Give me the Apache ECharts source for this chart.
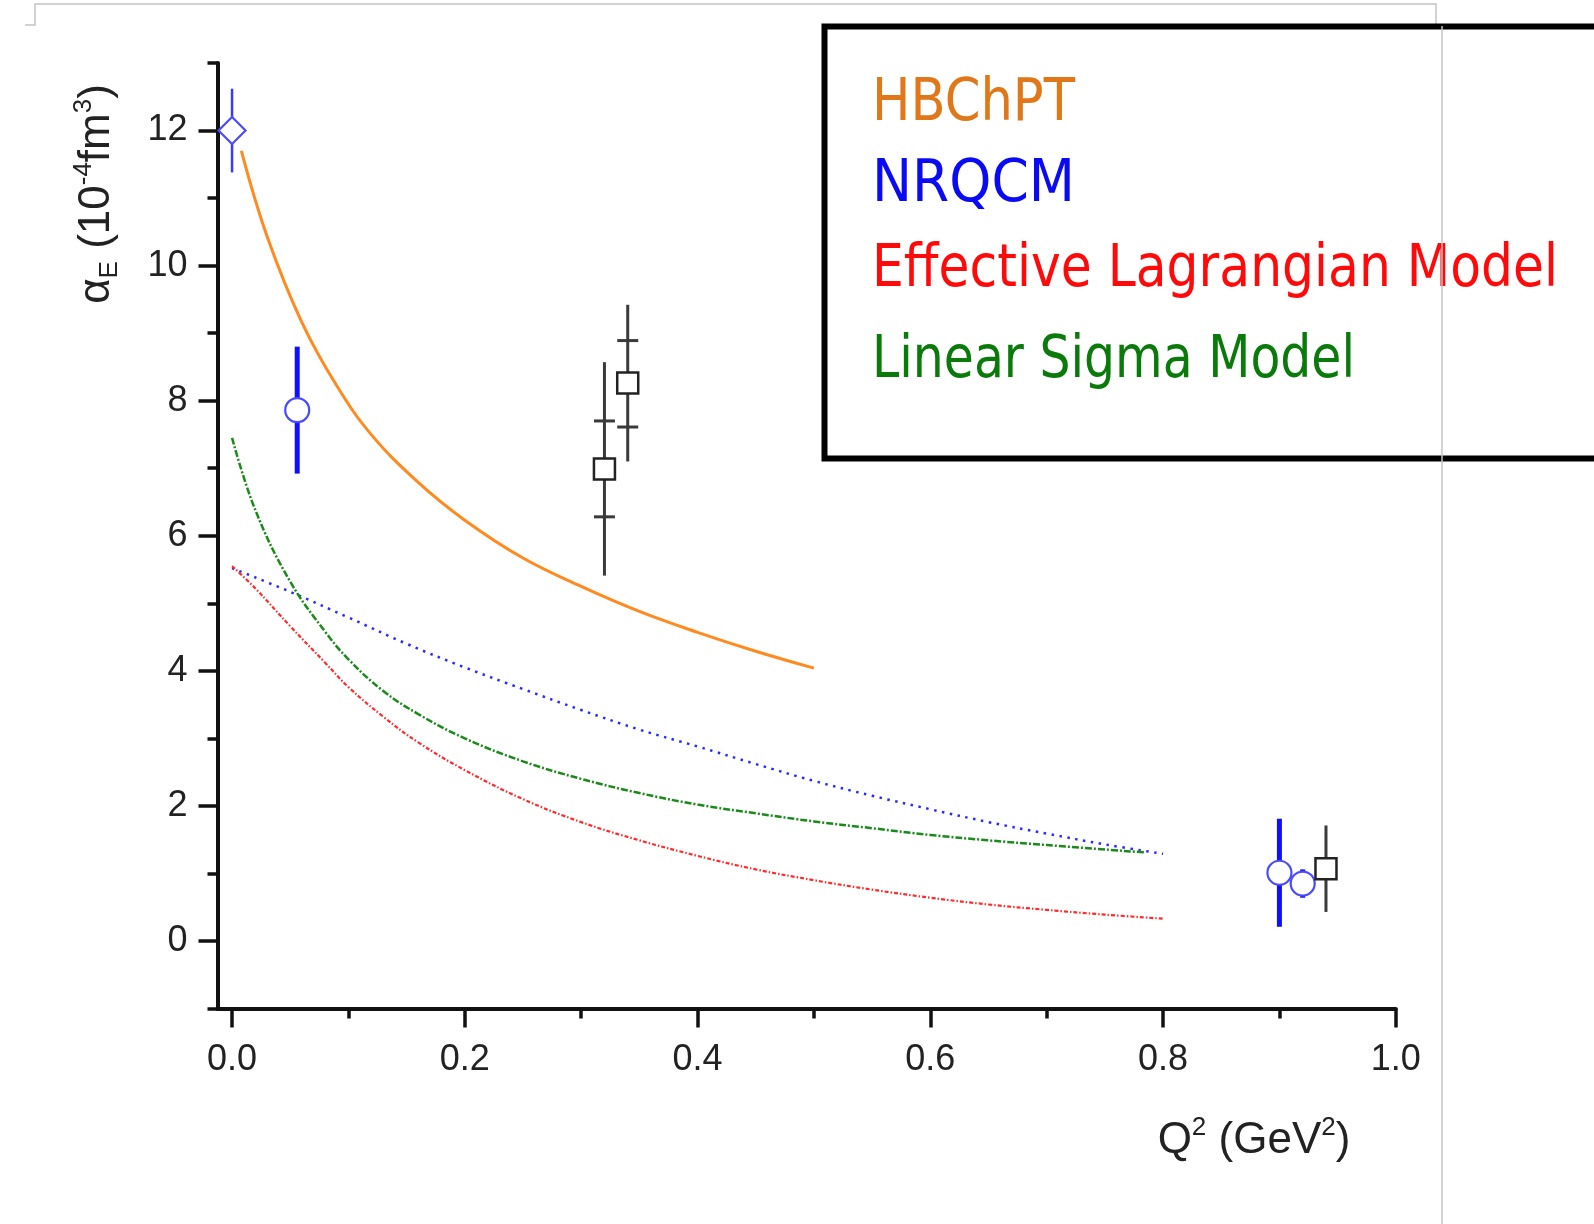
<!DOCTYPE html>
<html>
<head>
<meta charset="utf-8">
<script src="https://cdn.jsdelivr.net/npm/echarts@6/dist/echarts.min.js"></script>
<style>
html,body{margin:0;padding:0;background:#fff;}
#chart{width:1594px;height:1224px;}
</style>
</head>
<body>
<div id="chart"></div>
<script>
// ---------- data ----------
const xMajorTicks = [0, 0.2, 0.4, 0.6, 0.8, 1.0];
const xMinorTicks = [0.1, 0.3, 0.5, 0.7, 0.9];
const yMajorTicks = [0, 2, 4, 6, 8, 10, 12];
const yMinorTicks = [-1, 1, 3, 5, 7, 9, 11, 13];

const hbchptX = [0.008, 0.03, 0.06, 0.09, 0.12, 0.16, 0.20, 0.25, 0.30, 0.35, 0.40, 0.45, 0.50];
const hbchptY = [11.70, 10.44, 9.16, 8.22, 7.49, 6.79, 6.23, 5.67, 5.25, 4.88, 4.57, 4.29, 4.04];

const nrqcmX = [0, 0.05, 0.10, 0.15, 0.20, 0.25, 0.30, 0.35, 0.40, 0.45, 0.50, 0.55, 0.60, 0.65, 0.70, 0.75, 0.80];
const nrqcmY = [5.52, 5.17, 4.79, 4.40, 4.05, 3.73, 3.42, 3.13, 2.88, 2.62, 2.37, 2.15, 1.95, 1.76, 1.59, 1.43, 1.29];

const elmX = [0, 0.02, 0.05, 0.08, 0.10, 0.13, 0.16, 0.20, 0.25, 0.30, 0.35, 0.40, 0.45, 0.50, 0.55, 0.60, 0.65, 0.70, 0.75, 0.80];
const elmY = [5.55, 5.22, 4.66, 4.12, 3.76, 3.32, 2.94, 2.53, 2.10, 1.76, 1.49, 1.26, 1.06, 0.90, 0.76, 0.64, 0.54, 0.46, 0.39, 0.33];

const lsmX = [0, 0.02, 0.05, 0.08, 0.10, 0.13, 0.16, 0.20, 0.25, 0.30, 0.35, 0.40, 0.45, 0.50, 0.55, 0.60, 0.65, 0.70, 0.785];
const lsmY = [7.45, 6.38, 5.32, 4.58, 4.17, 3.70, 3.36, 3.00, 2.66, 2.40, 2.19, 2.02, 1.89, 1.77, 1.67, 1.57, 1.49, 1.42, 1.31];

// NRQCM-colored data points
const diamondX = [0];
const diamondY = [12.0];
const diamondErr = [0.62];

const circleX = [0.056, 0.90, 0.92];
const circleY = [7.86, 1.01, 0.85];
const circleErr = [0.94, 0.80, 0.21];

// black squares
const squareX = [0.32, 0.34, 0.94];
const squareY = [6.99, 8.26, 1.07];
const squareTotErr = [1.58, 1.16, 0.64];
const squareStatX = [0.32, 0.34];
const squareStatY = [6.99, 8.25];
const squareStatErr = [0.71, 0.64];

const legendNames = ['HBChPT', 'NRQCM', 'Effective Lagrangian Model', 'Linear Sigma Model'];
const legendColors = ['#e0781a', '#0a0af5', '#ff0a0a', '#0a7a0a'];

// ---------- helpers ----------
const zip = (xs, ys) => xs.map((x, i) => [x, ys[i]]);
const zip3 = (xs, ys, es) => xs.map((x, i) => [x, ys[i], es[i]]);

function vBar(color, width) {
  return function (params, api) {
    const x = api.value(0), y = api.value(1), e = api.value(2);
    const a = api.coord([x, y + e]);
    const b = api.coord([x, y - e]);
    return {
      type: 'line',
      shape: { x1: a[0], y1: a[1], x2: b[0], y2: b[1] },
      style: { stroke: color, lineWidth: width, lineCap: 'butt' }
    };
  };
}
function capBars(color, width, half) {
  return function (params, api) {
    const x = api.value(0), y = api.value(1), e = api.value(2);
    const a = api.coord([x, y + e]);
    const b = api.coord([x, y - e]);
    return {
      type: 'group',
      children: [
        { type: 'line', shape: { x1: a[0] - half, y1: a[1], x2: a[0] + half, y2: a[1] }, style: { stroke: color, lineWidth: width } },
        { type: 'line', shape: { x1: b[0] - half, y1: b[1], x2: b[0] + half, y2: b[1] }, style: { stroke: color, lineWidth: width } }
      ]
    };
  };
}

const labelFont = '"Liberation Sans", Arial, sans-serif';
const axisColor = '#111';

// legend text fitting
const legendFont = '"DejaVu Sans", sans-serif';
const legendSize = 58;
const legendTargetW = [203, 203, 686, 483];
const legendCY = [105, 186, 271, 362];
const mctx = document.createElement('canvas').getContext('2d');
mctx.font = legendSize + 'px ' + legendFont;
const legendGraphics = legendNames.map((name, i) => {
  const w = mctx.measureText(name).width;
  return {
    type: 'text',
    x: 872, y: legendCY[i],
    scaleX: legendTargetW[i] / w,
    z: 20,
    style: {
      text: name, fill: legendColors[i],
      font: legendSize + 'px ' + legendFont,
      align: 'left', verticalAlign: 'middle'
    }
  };
});

const chart = echarts.init(document.getElementById('chart'), null, { renderer: 'canvas' });

const lineCommon = { showSymbol: false, smooth: 0.4 };

const option = {
  backgroundColor: '#ffffff',
  animation: false,
  grid: { left: 217.5, right: 198.2, top: 63, bottom: 215.5, containLabel: false },
  xAxis: [
    {
      type: 'value', min: -0.0125, max: 1.0,
      axisLine: { show: true, onZero: false, lineStyle: { color: axisColor, width: 4 } },
      axisTick: { show: true, inside: false, length: 19, customValues: xMajorTicks, lineStyle: { color: axisColor, width: 3.5 } },
      axisLabel: { show: true, customValues: xMajorTicks, margin: 34, fontSize: 36, fontFamily: labelFont, color: '#222',
                   formatter: v => v.toFixed(1) },
      splitLine: { show: false }
    },
    {
      type: 'value', min: -0.0125, max: 1.0, position: 'bottom',
      axisLine: { show: false, onZero: false },
      axisTick: { show: true, inside: false, length: 10, customValues: xMinorTicks, lineStyle: { color: axisColor, width: 3.5 } },
      axisLabel: { show: false },
      splitLine: { show: false }
    }
  ],
  yAxis: [
    {
      type: 'value', min: -1, max: 13,
      axisLine: { show: true, onZero: false, lineStyle: { color: axisColor, width: 4 } },
      axisTick: { show: true, inside: false, length: 19, customValues: yMajorTicks, lineStyle: { color: axisColor, width: 3.5 } },
      axisLabel: { show: true, customValues: yMajorTicks, margin: 30, fontSize: 36, fontFamily: labelFont, color: '#222' },
      splitLine: { show: false }
    },
    {
      type: 'value', min: -1, max: 13, position: 'left',
      axisLine: { show: false, onZero: false },
      axisTick: { show: true, inside: false, length: 10, customValues: yMinorTicks, lineStyle: { color: axisColor, width: 3.5 } },
      axisLabel: { show: false },
      splitLine: { show: false }
    }
  ],
  graphic: [
    // page frame remnants
    { type: 'polyline', shape: { points: [[25, 25], [35, 25], [35, 4], [1436, 4], [1436, 26]] }, style: { stroke: '#c4c4c4', lineWidth: 1.5, fill: null }, z: 1 },
    { type: 'line', shape: { x1: 1442, y1: 26, x2: 1442, y2: 1224 }, style: { stroke: '#c4c4c4', lineWidth: 1.5 }, z: 25 },
    // legend box
    { type: 'rect', shape: { x: 824.5, y: 26.5, width: 820, height: 432 }, style: { fill: '#fff', stroke: '#000', lineWidth: 6 }, z: 10 },
    ...legendGraphics,
    // axis titles
    {
      type: 'text', x: 97, y: 194, rotation: Math.PI / 2, z: 20,
      style: {
        text: '{a|α}{s|E}{a| (10}{p|-4}{a|fm}{p|3}{a|)}',
        align: 'center', verticalAlign: 'middle',
        rich: {
          a: { fontSize: 44, fontFamily: labelFont, fill: '#222', lineHeight: 52, verticalAlign: 'middle' },
          s: { fontSize: 26, fontFamily: labelFont, fill: '#222', lineHeight: 52, verticalAlign: 'bottom' },
          p: { fontSize: 26, fontFamily: labelFont, fill: '#222', lineHeight: 26, verticalAlign: 'top' }
        }
      }
    },
    {
      type: 'text', x: 1254, y: 1141, z: 20,
      style: {
        text: '{a|Q}{p|2}{a| (GeV}{p|2}{a|)}',
        align: 'center', verticalAlign: 'middle',
        rich: {
          a: { fontSize: 44, fontFamily: labelFont, fill: '#222', lineHeight: 52, verticalAlign: 'middle' },
          p: { fontSize: 26, fontFamily: labelFont, fill: '#222', lineHeight: 26, verticalAlign: 'top' }
        }
      }
    }
  ],
  series: [
    Object.assign({ name: 'HBChPT', type: 'line', data: zip(hbchptX, hbchptY), lineStyle: { color: '#ff8a1f', width: 3 }, z: 3 }, lineCommon),
    Object.assign({ name: 'NRQCM', type: 'line', data: zip(nrqcmX, nrqcmY), lineStyle: { color: '#2a2aff', width: 2.5, type: [2.5, 5.5] }, z: 3 }, lineCommon),
    Object.assign({ name: 'Effective Lagrangian Model', type: 'line', data: zip(elmX, elmY), lineStyle: { color: '#ff2a2a', width: 2.2, type: [4, 2, 1.5, 2] }, z: 3 }, lineCommon),
    Object.assign({ name: 'Linear Sigma Model', type: 'line', data: zip(lsmX, lsmY), lineStyle: { color: '#1a8a1a', width: 2.5, type: [7, 2, 2, 2] }, z: 3 }, lineCommon),
    { type: 'custom', renderItem: vBar('#3a3aff', 2.5), data: zip3(diamondX, diamondY, diamondErr), z: 4, clip: false },
    { type: 'custom', renderItem: vBar('#1010ff', 5), data: zip3(circleX, circleY, circleErr), z: 4, clip: false },
    { type: 'custom', renderItem: vBar('#3a3a3a', 3), data: zip3(squareX, squareY, squareTotErr), z: 4, clip: false },
    { type: 'custom', renderItem: capBars('#3a3a3a', 3, 10.5), data: zip3(squareStatX, squareStatY, squareStatErr), z: 4, clip: false },
    {
      type: 'scatter', data: zip(diamondX, diamondY), symbol: 'diamond', symbolSize: [27, 27],
      itemStyle: { color: '#fff', borderColor: '#4a4aff', borderWidth: 2.2, opacity: 1 }, z: 6, clip: false
    },
    {
      type: 'scatter', data: zip(circleX, circleY), symbol: 'circle', symbolSize: 24,
      itemStyle: { color: '#fff', borderColor: '#4a4aff', borderWidth: 2.2, opacity: 1 }, z: 6, clip: false
    },
    {
      type: 'scatter', data: zip(squareX, squareY), symbol: 'rect', symbolSize: 21,
      itemStyle: { color: '#fff', borderColor: '#222', borderWidth: 2.5, opacity: 1 }, z: 6, clip: false
    }
  ]
};
chart.setOption(option);
</script>
</body>
</html>
